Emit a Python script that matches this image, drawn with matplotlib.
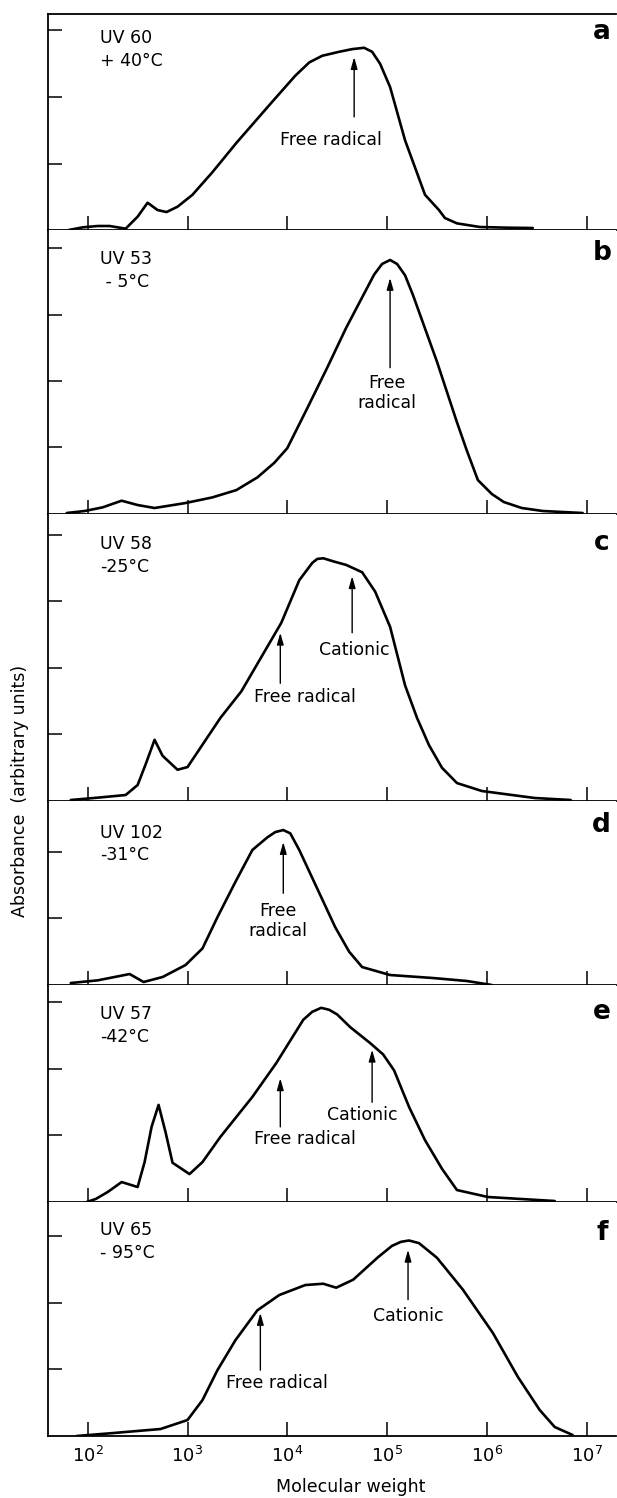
import numpy as np
import matplotlib
matplotlib.use('Agg')
import matplotlib.pyplot as plt
from matplotlib.ticker import FixedLocator, NullLocator

# --- curves: log10(molecular weight), absorbance (tick units) ---
a_logm = [1.81, 1.95, 2.10, 2.22, 2.38, 2.50, 2.60, 2.70, 2.79, 2.90, 3.05, 3.25, 3.49, 3.85,
          4.08, 4.22, 4.35, 4.52, 4.65, 4.77, 4.85, 4.93, 5.03, 5.18, 5.38, 5.52, 5.58, 5.70,
          5.93, 6.20, 6.46]
a_abs = [0.0, 0.04, 0.06, 0.06, 0.02, 0.20, 0.41, 0.30, 0.27, 0.35, 0.53, 0.87, 1.31, 1.93,
         2.32, 2.52, 2.62, 2.68, 2.72, 2.74, 2.68, 2.50, 2.15, 1.35, 0.53, 0.30, 0.18, 0.10,
         0.045, 0.035, 0.03]

b_logm = [1.79, 1.97, 2.15, 2.34, 2.50, 2.67, 2.98, 3.25, 3.49, 3.70, 3.87, 4.00, 4.20, 4.40,
          4.59, 4.87, 4.95, 5.03, 5.10, 5.18, 5.26, 5.50, 5.70, 5.80, 5.91, 6.05, 6.17, 6.35,
          6.56, 6.96]
b_abs = [0.015, 0.045, 0.10, 0.20, 0.135, 0.09, 0.165, 0.25, 0.36, 0.55, 0.77, 0.99, 1.59, 2.20,
         2.80, 3.60, 3.76, 3.82, 3.76, 3.59, 3.29, 2.29, 1.38, 0.95, 0.51, 0.30, 0.18, 0.09,
         0.045, 0.015]

c_logm = [1.83, 2.10, 2.38, 2.50, 2.58, 2.67, 2.75, 2.90, 3.00, 3.33, 3.54, 3.94, 4.12, 4.25,
          4.30, 4.36, 4.47, 4.59, 4.75, 4.88, 5.03, 5.18, 5.30, 5.42, 5.55, 5.70, 5.95, 6.48, 6.84]
c_abs = [0.015, 0.05, 0.09, 0.24, 0.55, 0.92, 0.68, 0.47, 0.51, 1.25, 1.65, 2.68, 3.32, 3.58,
         3.64, 3.65, 3.60, 3.55, 3.44, 3.15, 2.62, 1.74, 1.25, 0.84, 0.50, 0.27, 0.15, 0.045, 0.015]

d_logm = [1.83, 2.10, 2.42, 2.56, 2.75, 2.98, 3.15, 3.30, 3.48, 3.65, 3.80, 3.88, 3.96, 4.03,
          4.12, 4.30, 4.48, 4.62, 4.75, 5.03, 5.46, 5.80, 6.05]
d_abs = [0.03, 0.07, 0.165, 0.045, 0.12, 0.30, 0.55, 1.02, 1.55, 2.03, 2.22, 2.30, 2.33, 2.28,
         2.03, 1.45, 0.87, 0.50, 0.27, 0.15, 0.105, 0.06, 0.0]

e_logm = [1.99, 2.08, 2.20, 2.34, 2.50, 2.57, 2.64, 2.71, 2.78, 2.85, 3.02, 3.15, 3.33, 3.65,
          3.89, 4.16, 4.25, 4.34, 4.42, 4.50, 4.63, 4.83, 4.96, 5.07, 5.22, 5.38, 5.55, 5.70,
          6.01, 6.68]
e_abs = [0.0, 0.045, 0.15, 0.30, 0.225, 0.60, 1.13, 1.46, 1.05, 0.59, 0.42, 0.60, 0.98, 1.58,
         2.09, 2.74, 2.86, 2.92, 2.89, 2.82, 2.63, 2.39, 2.22, 1.98, 1.43, 0.93, 0.50, 0.18,
         0.075, 0.015]

f_logm = [1.89, 2.26, 2.73, 3.00, 3.15, 3.30, 3.48, 3.70, 3.92, 4.18, 4.36, 4.49, 4.66, 4.91,
          5.05, 5.14, 5.22, 5.32, 5.50, 5.76, 6.06, 6.31, 6.53, 6.68, 6.86]
f_abs = [0.0, 0.045, 0.105, 0.24, 0.54, 0.99, 1.44, 1.89, 2.12, 2.27, 2.29, 2.23, 2.35, 2.69,
         2.86, 2.92, 2.94, 2.90, 2.68, 2.20, 1.55, 0.89, 0.39, 0.135, 0.015]

letters = ['a', 'b', 'c', 'd', 'e', 'f']
samples = ['UV 60\n+ 40°C', 'UV 53\n - 5°C', 'UV 58\n-25°C', 'UV 102\n-31°C', 'UV 57\n-42°C', 'UV 65\n- 95°C']
xtick_labels = ['$10^2$', '$10^3$', '$10^4$', '$10^5$', '$10^6$', '$10^7$']

# arrows: (label, log10 M at arrow, tip y, tail y, text x, text y)
arrows = {
    'a': [('Free radical', 4.67, 2.60, 1.70, 4.44, 1.35)],
    'b': [('Free\nradical', 5.03, 3.55, 2.20, 5.00, 1.82)],
    'c': [('Cationic', 4.65, 3.38, 2.53, 4.67, 2.27),
          ('Free radical', 3.93, 2.53, 1.77, 4.18, 1.56)],
    'd': [('Free\nradical', 3.96, 2.15, 1.38, 3.91, 0.96)],
    'e': [('Free radical', 3.93, 1.86, 1.13, 4.18, 0.95),
          ('Cationic', 4.85, 2.29, 1.50, 4.75, 1.31)],
    'f': [('Free radical', 3.73, 1.85, 0.99, 3.90, 0.80),
          ('Cationic', 5.21, 2.80, 2.05, 5.21, 1.80)],
}

curves = [(a_logm, a_abs), (b_logm, b_abs), (c_logm, c_abs),
          (d_logm, d_abs), (e_logm, e_abs), (f_logm, f_abs)]
heights = [216, 284, 287, 184, 217, 234]   # panel heights in px
unit_px = 66.5
label_y = [2.72, 3.66, 3.69, 2.12, 2.66, 2.92]
letter_y = [2.98, 3.92, 3.88, 2.41, 2.86, 3.05]

W, H = 617, 1498
fig = plt.figure(figsize=(W / 100, H / 100), dpi=100)
gs = fig.add_gridspec(6, 1, height_ratios=heights, hspace=0,
                      left=48 / W, right=616 / W, top=1 - 14 / H, bottom=1 - 1436 / H)

xmin, xmax = 10 ** 1.602, 10 ** 7.294
fs = 12.5

for i, (lm, ab) in enumerate(curves):
    ax = fig.add_subplot(gs[i])
    ax.set_xscale('log')
    ax.plot(10 ** np.array(lm), ab, color='black', lw=1.9, solid_joinstyle='round',
            solid_capstyle='round')
    ax.set_xlim(xmin, xmax)
    ymax = heights[i] / unit_px
    ax.set_ylim(0, ymax)

    ax.xaxis.set_major_locator(FixedLocator([1e2, 1e3, 1e4, 1e5, 1e6, 1e7]))
    ax.xaxis.set_minor_locator(NullLocator())
    ax.yaxis.set_major_locator(FixedLocator(list(range(1, int(ymax) + 1))))
    ax.tick_params(axis='x', direction='in', length=10, width=1.1, pad=7, labelsize=13)
    ax.tick_params(axis='y', direction='in', length=10, width=1.1, labelleft=False)
    if i == 5:
        ax.set_xticklabels(xtick_labels)
    else:
        ax.tick_params(axis='x', labelbottom=False)

    ax.spines['right'].set_visible(False)
    ax.spines['top'].set_visible(i == 0)
    for s in ['left', 'bottom', 'top']:
        ax.spines[s].set_linewidth(1.3)

    ax.text(10 ** 2.12, label_y[i], samples[i], fontsize=fs, ha='left', va='center',
            linespacing=1.35)
    ax.text(0.975, letter_y[i], letters[i], transform=ax.get_yaxis_transform(),
            fontsize=19, fontweight='bold', ha='center', va='center')

    for (txt, xa, tip, tail, tx, ty) in arrows[letters[i]]:
        ax.annotate('', xy=(10 ** xa, tip), xytext=(10 ** xa, tail),
                    arrowprops=dict(arrowstyle='-|>,head_length=0.7,head_width=0.2',
                                    color='black', lw=1.0, shrinkA=0, shrinkB=0))
        ax.text(10 ** tx, ty, txt, fontsize=fs, ha='center', va='center', linespacing=1.15)

fig.text(20 / W, 1 - 791 / H, 'Absorbance  (arbitrary units)', rotation=90,
         ha='center', va='center', fontsize=fs)
fig.text(351 / W, 1 - 1487 / H, 'Molecular weight', ha='center', va='center', fontsize=fs)

fig.savefig('out.png', dpi=100)
